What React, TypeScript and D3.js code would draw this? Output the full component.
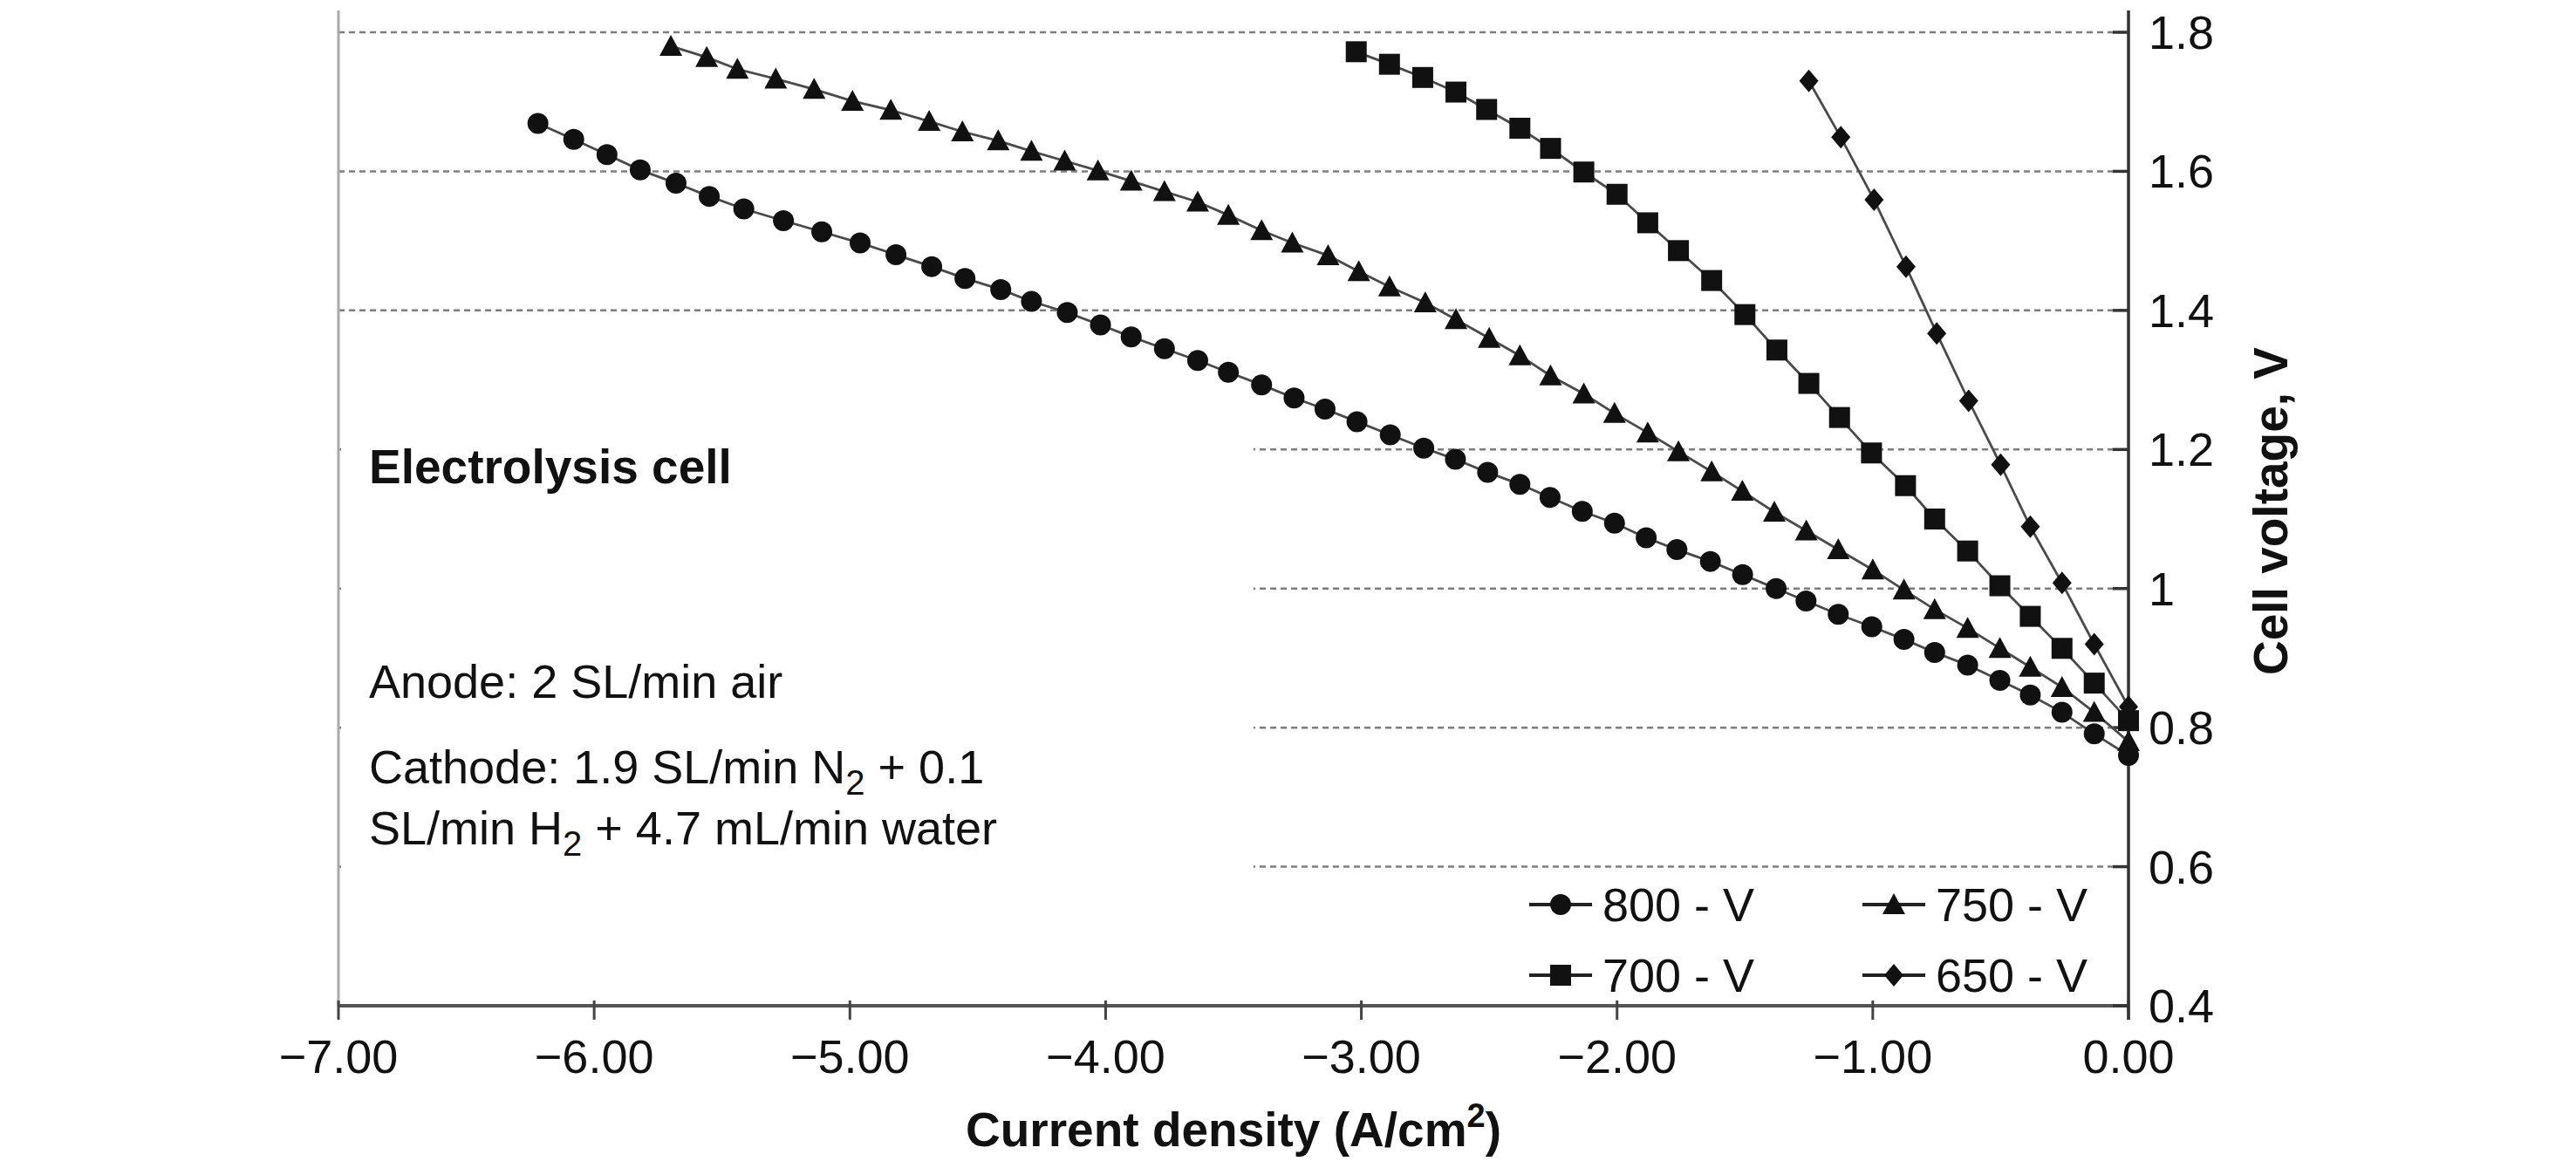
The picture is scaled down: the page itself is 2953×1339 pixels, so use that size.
import * as d3 from 'd3'

const WIDTH = 2953
const HEIGHT = 1339

// current density (A/cm2) and cell voltage (V) per furnace temperature
const x800 = [-6.22, -6.08, -5.95, -5.82, -5.68, -5.55, -5.415, -5.26, -5.11, -4.96, -4.82, -4.68, -4.55, -4.41, -4.29, -4.15, -4.02, -3.9, -3.77, -3.64, -3.52, -3.39, -3.263, -3.142, -3.017, -2.887, -2.756, -2.632, -2.506, -2.38, -2.262, -2.136, -2.01, -1.886, -1.766, -1.635, -1.509, -1.378, -1.261, -1.135, -1.004, -0.878, -0.758, -0.629, -0.503, -0.384, -0.26, -0.134, 0]
const v800 = [1.669, 1.646, 1.624, 1.602, 1.583, 1.564, 1.546, 1.529, 1.513, 1.497, 1.48, 1.463, 1.446, 1.43, 1.413, 1.397, 1.379, 1.362, 1.345, 1.328, 1.311, 1.293, 1.274, 1.258, 1.24, 1.221, 1.202, 1.186, 1.167, 1.15, 1.131, 1.111, 1.094, 1.073, 1.056, 1.039, 1.02, 1.0, 0.982, 0.963, 0.945, 0.927, 0.908, 0.89, 0.868, 0.847, 0.822, 0.791, 0.76]

const x750 = [-5.7, -5.56, -5.44, -5.29, -5.14, -4.99, -4.84, -4.69, -4.56, -4.42, -4.29, -4.16, -4.03, -3.9, -3.77, -3.64, -3.52, -3.39, -3.27, -3.13, -3.01, -2.89, -2.75, -2.63, -2.5, -2.38, -2.26, -2.13, -2.01, -1.88, -1.76, -1.63, -1.51, -1.385, -1.26, -1.135, -1.0, -0.878, -0.758, -0.629, -0.503, -0.384, -0.26, -0.134, 0]
const v750 = [1.78, 1.764, 1.747, 1.733, 1.718, 1.701, 1.688, 1.672, 1.657, 1.644, 1.629, 1.615, 1.601, 1.586, 1.571, 1.556, 1.537, 1.515, 1.497, 1.479, 1.456, 1.434, 1.411, 1.387, 1.36, 1.335, 1.306, 1.28, 1.252, 1.224, 1.197, 1.168, 1.14, 1.11, 1.083, 1.056, 1.027, 0.998, 0.97, 0.943, 0.914, 0.887, 0.858, 0.822, 0.78]

const x700 = [-3.02, -2.89, -2.76, -2.63, -2.51, -2.38, -2.26, -2.13, -2.0, -1.88, -1.76, -1.63, -1.5, -1.375, -1.25, -1.13, -1.005, -0.872, -0.758, -0.629, -0.503, -0.384, -0.26, -0.134, 0]
const v700 = [1.772, 1.754, 1.735, 1.714, 1.689, 1.662, 1.633, 1.599, 1.567, 1.526, 1.486, 1.443, 1.394, 1.343, 1.295, 1.246, 1.195, 1.148, 1.1, 1.054, 1.004, 0.96, 0.914, 0.864, 0.81]

const x650 = [-1.25, -1.125, -0.995, -0.87, -0.75, -0.625, -0.5, -0.384, -0.26, -0.134, 0]
const v650 = [1.73, 1.649, 1.559, 1.463, 1.367, 1.27, 1.178, 1.089, 1.008, 0.92, 0.83]

const seriesNames = ['800 - V', '750 - V', '700 - V', '650 - V']
const xTicks = [-7, -6, -5, -4, -3, -2, -1, 0]
const yTicks = [0.4, 0.6, 0.8, 1, 1.2, 1.4, 1.6, 1.8]
const gridValues = [0.6, 0.8, 1, 1.2, 1.4, 1.6, 1.8]

const FONT = "'Liberation Sans', Arial, Helvetica, sans-serif"
const LINE = '#4a4a4a'
const MARK = '#111'

const marker = (shape: string, cx: number, cy: number, key?: any) => {
  if (shape === 'circle') return <circle key={key} cx={cx} cy={cy} r={12} fill={MARK} />
  if (shape === 'square') return <rect key={key} x={cx - 12} y={cy - 12} width={24} height={24} fill={MARK} />
  if (shape === 'triangle')
    return <path key={key} d={`M${cx},${cy - 13}L${cx + 13},${cy + 11}L${cx - 13},${cy + 11}Z`} fill={MARK} />
  return <path key={key} d={`M${cx},${cy - 13}L${cx + 11},${cy}L${cx},${cy + 13}L${cx - 11},${cy}Z`} fill={MARK} />
}

export default function App() {
  const left = 388
  const right = 2440
  const top = 37
  const bottom = 1153

  const x = d3.scaleLinear().domain([-7, 0]).range([left, right])
  const y = d3.scaleLinear().domain([0.4, 1.8]).range([bottom, top])

  const series = [
    { name: seriesNames[0], xs: x800, vs: v800, shape: 'circle' },
    { name: seriesNames[1], xs: x750, vs: v750, shape: 'triangle' },
    { name: seriesNames[2], xs: x700, vs: v700, shape: 'square' },
    { name: seriesNames[3], xs: x650, vs: v650, shape: 'diamond' },
  ]

  const line = d3
    .line<[number, number]>()
    .x((d) => x(d[0]))
    .y((d) => y(d[1]))

  const fmtX = d3.format('.2f')
  const fmtY = d3.format('')

  // legend slots: two columns, two rows
  const legendPos = [
    { lx: 1753, ly: 1037 },
    { lx: 2135, ly: 1037 },
    { lx: 1753, ly: 1118 },
    { lx: 2135, ly: 1118 },
  ]

  return (
    <svg
      width={WIDTH}
      height={HEIGHT}
      style={{ position: 'absolute', left: 0, top: 0, background: '#fff' }}
      fontFamily={FONT}
    >
      <rect width={WIDTH} height={HEIGHT} fill="#fff" />

      {/* dashed grid */}
      {gridValues.map((v) => (
        <line
          key={v}
          x1={left}
          x2={right}
          y1={y(v)}
          y2={y(v)}
          stroke="#7d7d7d"
          strokeWidth={2.5}
          strokeDasharray="7 5"
        />
      ))}

      {/* text box covering the lower grid on the left */}
      <rect x={left + 3} y={440} width={1437 - left - 3} height={700} fill="#fff" />

      {/* plot area left border */}
      <line x1={left} x2={left} y1={12} y2={bottom} stroke="#aaa" strokeWidth={3} />

      {/* x axis */}
      <line x1={left} x2={right} y1={bottom} y2={bottom} stroke="#555" strokeWidth={4} />
      {xTicks.map((t) => (
        <g key={t}>
          <line x1={x(t)} x2={x(t)} y1={bottom - 6} y2={bottom + 16} stroke="#444" strokeWidth={3} />
          <text x={x(t)} y={1230} fontSize={54} textAnchor="middle" fill="#111">
            {fmtX(t)}
          </text>
        </g>
      ))}

      {/* y axis on the right */}
      <line x1={right} x2={right} y1={12} y2={bottom + 16} stroke="#333" strokeWidth={3.5} />
      {yTicks.map((t) => (
        <g key={t}>
          <line x1={right - 18} x2={right} y1={y(t)} y2={y(t)} stroke="#333" strokeWidth={3.5} />
          <text x={2463} y={y(t) + 19} fontSize={54} fill="#111">
            {fmtY(t)}
          </text>
        </g>
      ))}

      {/* series */}
      {series.map((s) => {
        const pts = s.xs.map((xv, i) => [xv, s.vs[i]] as [number, number])
        return (
          <g key={s.name}>
            <path d={line(pts) || ''} fill="none" stroke={LINE} strokeWidth={2.8} />
            {pts.map((p, i) => marker(s.shape, x(p[0]), y(p[1]), i))}
          </g>
        )
      })}

      {/* legend */}
      {series.map((s, i) => {
        const { lx, ly } = legendPos[i]
        return (
          <g key={s.name}>
            <line x1={lx} x2={lx + 72} y1={ly} y2={ly} stroke="#222" strokeWidth={4} />
            {marker(s.shape, lx + 36, ly)}
            <text x={lx + 84} y={ly + 19} fontSize={54} fill="#111">
              {s.name}
            </text>
          </g>
        )
      })}

      {/* annotations */}
      <text x={423} y={554} fontSize={55} fontWeight="bold" fill="#111">
        Electrolysis cell
      </text>
      <text x={423} y={800} fontSize={54} fill="#111">
        Anode: 2 SL/min air
      </text>
      <text x={423} y={898} fontSize={54} fill="#111">
        Cathode: 1.9 SL/min N
        <tspan dy={13} fontSize={40}>
          2
        </tspan>
        <tspan dy={-13}> + 0.1</tspan>
      </text>
      <text x={423} y={968} fontSize={54} fill="#111">
        SL/min H
        <tspan dy={13} fontSize={40}>
          2
        </tspan>
        <tspan dy={-13}> + 4.7 mL/min water</tspan>
      </text>

      {/* axis titles */}
      <text x={(left + right) / 2} y={1314} fontSize={55} fontWeight="bold" textAnchor="middle" fill="#111">
        Current density (A/cm
        <tspan dy={-22} fontSize={38}>
          2
        </tspan>
        <tspan dy={22}>)</tspan>
      </text>
      <text
        transform={`translate(2622,586) rotate(-90)`}
        fontSize={55}
        fontWeight="bold"
        textAnchor="middle"
        fill="#111"
      >
        Cell voltage, V
      </text>
    </svg>
  )
}
